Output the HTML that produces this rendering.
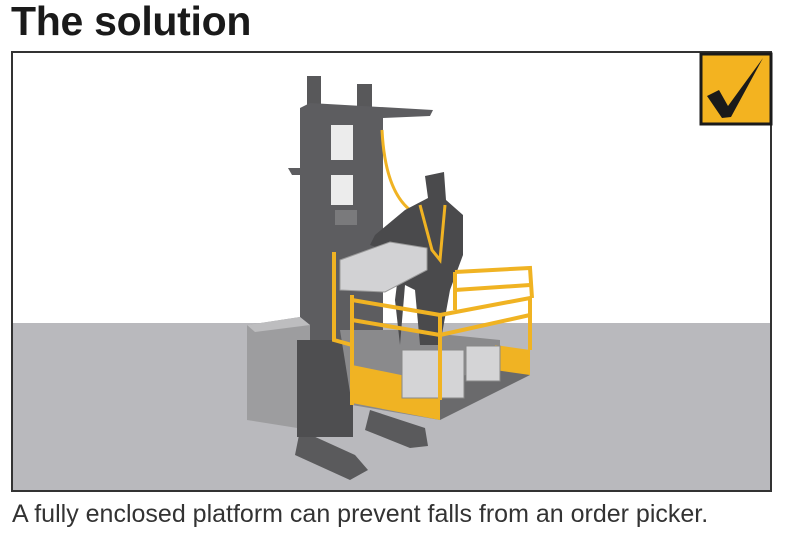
<!DOCTYPE html>
<html><head><meta charset="utf-8"><style>
body{margin:0;width:785px;height:542px;background:#fff;overflow:hidden;font-family:"Liberation Sans",sans-serif}
.t{position:absolute;left:11px;top:-2px;font-size:41px;font-weight:bold;color:#1a1a1a;letter-spacing:-0.3px}
.c{position:absolute;left:12px;top:500px;font-size:25px;color:#333}
svg{position:absolute;left:0;top:0}
</style></head><body>
<div class="t">The solution</div>
<svg width="785" height="542">
<rect x="12" y="323" width="759" height="168" fill="#b9b9bd"/>
<rect x="12" y="52" width="759" height="439" fill="none" stroke="#333" stroke-width="2"/>
<!-- check -->
<rect x="701" y="54" width="70" height="70" fill="#f3b320" stroke="#1a1a1a" stroke-width="3"/>
<path d="M707 96 L719 90 L728 106 L763 58 L731 117 L722 118 Z" fill="#1a1a1a"/>
<!-- legs -->
<path d="M300 430 L355 455 L368 470 L350 480 L295 455 Z" fill="#5a5a5c"/>
<path d="M370 410 L425 428 L428 446 L410 448 L365 430 Z" fill="#5a5a5c"/>
<!-- mast -->
<rect x="307" y="76" width="14" height="30" fill="#58585a"/>
<rect x="357" y="84" width="15" height="25" fill="#58585a"/>
<path d="M300 108 L310 103 L433 110 L430 116 L383 118 L383 343 L300 343 Z" fill="#5d5d60"/>
<path d="M288 168 L305 168 L305 175 L292 175 Z" fill="#5d5d60"/>
<rect x="331" y="125" width="22" height="35" fill="#ececec"/>
<rect x="331" y="175" width="22" height="30" fill="#ececec"/>
<rect x="335" y="210" width="22" height="15" fill="#7a7a7c"/>
<!-- battery box -->
<path d="M247 325 L300 317 L310 325 L310 430 L247 420 Z" fill="#9d9d9f"/>
<path d="M247 325 L300 317 L310 325 L255 332 Z" fill="#bdbdbf"/>
<rect x="297" y="340" width="56" height="97" fill="#4e4e50"/>
<!-- platform -->
<path d="M340 330 L400 330 L500 340 L500 380 L440 420 L352 405 Z" fill="#8a8a8c"/>
<path d="M352 365 L440 383 L440 420 L352 403 Z" fill="#f0b323"/>
<path d="M440 383 L530 355 L530 375 L440 420 Z" fill="#6a6a6c"/>
<path d="M495 345 L530 350 L530 375 L495 370 Z" fill="#f0b323"/>
<!-- boxes on pallet -->
<rect x="402" y="350" width="62" height="48" fill="#d4d4d6" stroke="#888" />
<rect x="466" y="346" width="34" height="35" fill="#d4d4d6" stroke="#888"/>
<!-- harness strap -->
<path d="M382 130 Q385 190 410 210" stroke="#f0b323" stroke-width="3" fill="none"/>
<!-- person -->
<path d="M425 176 L444 172 L446 200 L463 215 L463 255 L450 290 L440 345 L420 345 L415 290 L405 285 L400 345 L395 300 L400 260 L385 250 L370 245 L375 235 L405 210 L428 198 Z" fill="#4a4a4c"/>
<path d="M420 205 L432 250 L440 260 L445 205" stroke="#f0b323" stroke-width="3" fill="none"/>
<!-- carried box -->
<path d="M340 260 L390 242 L427 248 L427 270 L385 292 L340 290 Z" fill="#d2d2d4" stroke="#999"/>
<!-- rails -->
<g stroke="#f0b323" stroke-width="4" fill="none">
<path d="M334 252 L334 340 L352 345"/>
<path d="M352 295 L352 405"/>
<path d="M352 300 L440 315 L440 400"/>
<path d="M352 320 L440 335"/>
<path d="M440 315 L530 298 L530 350"/>
<path d="M440 335 L530 315"/>
<path d="M455 272 L530 268 L532 298"/>
<path d="M455 272 L455 310"/>
<path d="M455 290 L530 285"/>
</g>
</svg>
<div class="c">A fully enclosed platform can prevent falls from an order picker.</div>
</body></html>
